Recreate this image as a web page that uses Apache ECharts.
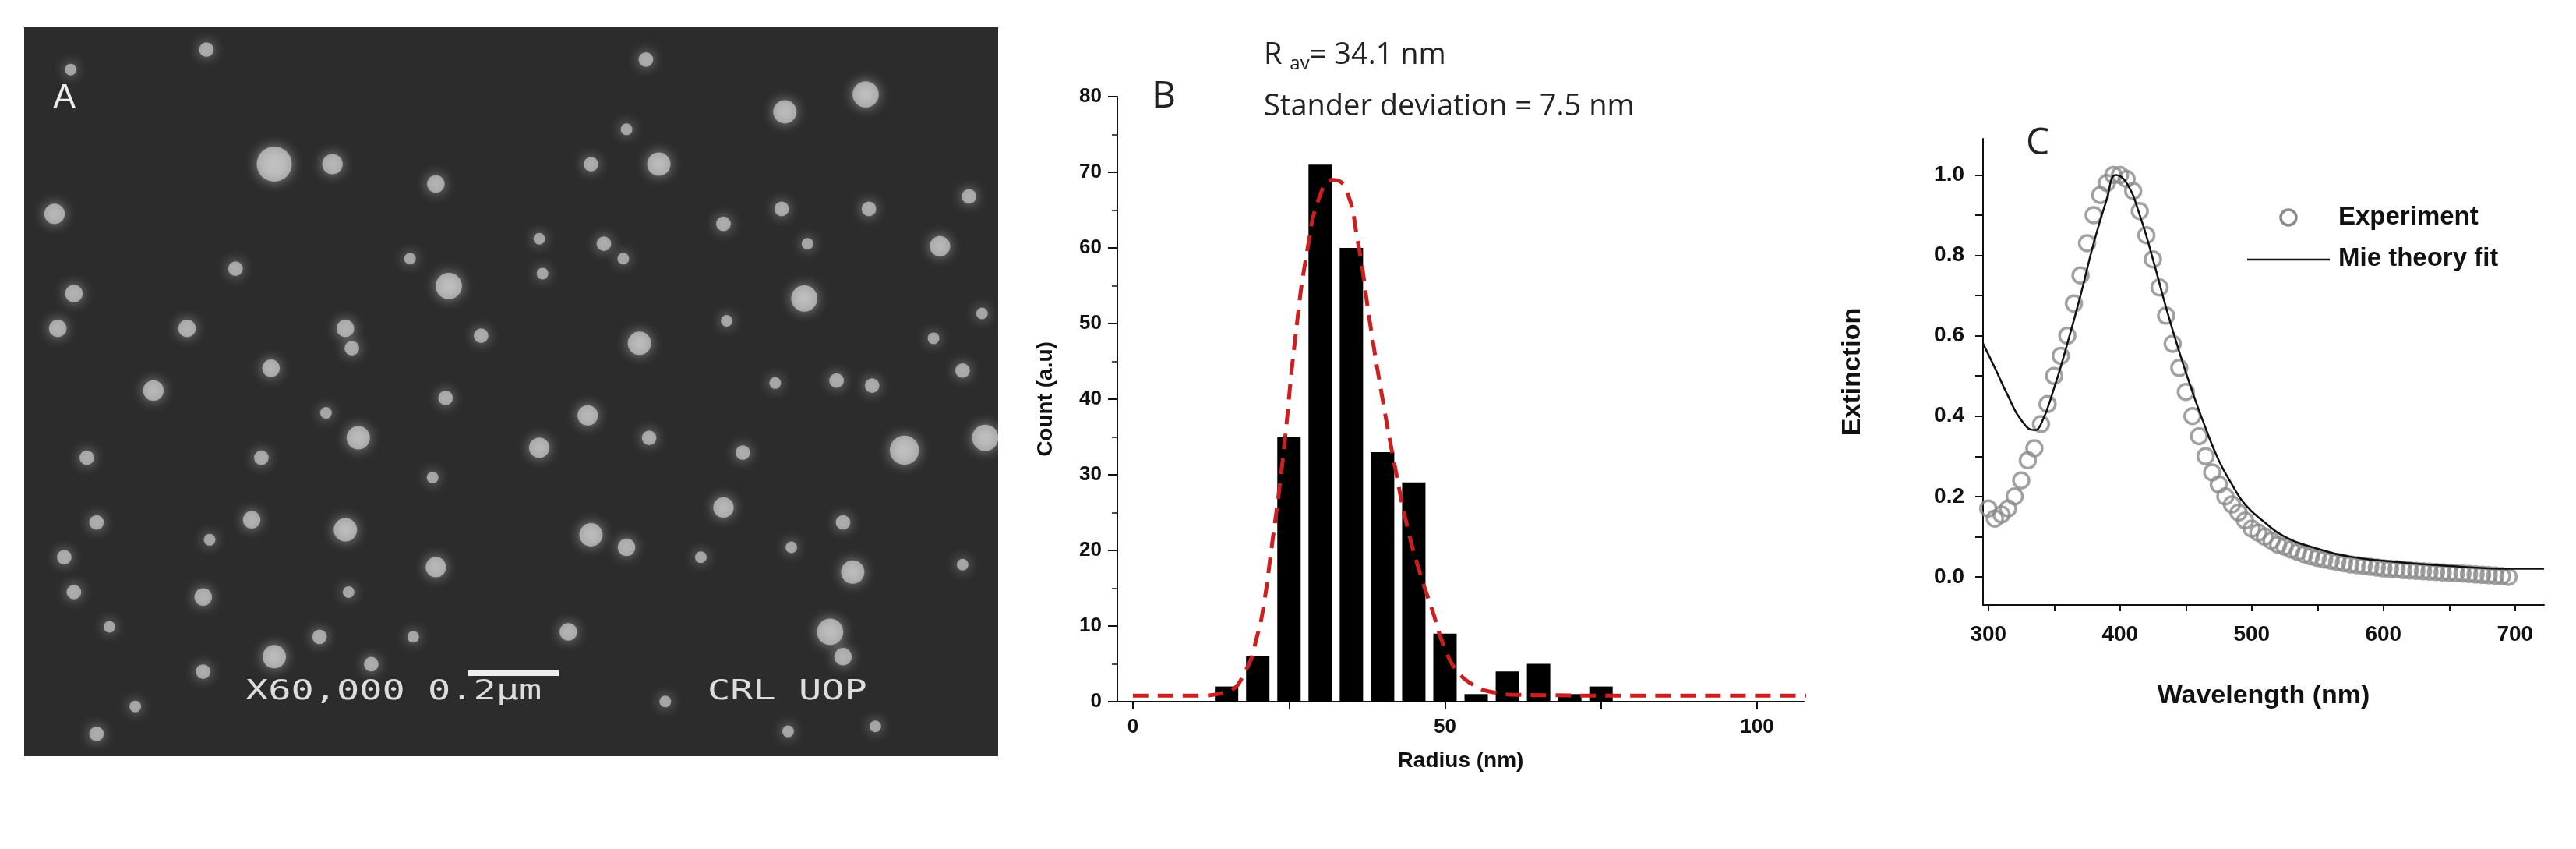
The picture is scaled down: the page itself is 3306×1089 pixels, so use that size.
<!DOCTYPE html>
<html>
<head>
<meta charset="utf-8">
<script src="https://cdn.jsdelivr.net/npm/echarts@6/dist/echarts.min.js"></script>
<style>html,body{margin:0;padding:0;background:#fff}#main{width:3306px;height:1089px}</style>
</head>
<body>
<div id="main"></div>
<script>
// panel A: bright spots in the SEM picture [x, y, size] (picture pixel coordinates)
var semSpots = [[425,330,60],[515,330,35],[320,100,25],[110,140,20],[85,430,35],[115,590,30],[90,660,30],[365,540,25],
  [290,660,30],[675,370,30],[695,575,45],[535,660,30],[545,700,25],[420,740,30],[238,785,35],[690,800,25],[745,675,25],
  [635,520,20],[835,480,20],[840,550,20],[935,490,25],[965,520,20],[1020,330,40],[915,330,25],[970,260,20],[1000,120,25],
  [1215,225,40],[1340,190,45],[1120,450,25],[1210,420,25],[1345,420,25],[1250,490,20],[1455,495,35],[1500,395,25],
  [1245,600,45],[1125,645,20],[990,690,40],[1200,770,20],[1295,765,25],[1350,775,25],[1490,745,25],[1520,630,20],
  [1445,680,20],[910,835,35],[835,900,35],[1005,880,25],[1150,910,25],[1400,905,50],[1525,880,45],[555,880,40],
  [505,830,20],[405,920,25],[135,920,25],[670,960,20],[150,1050,25],[390,1045,30],[535,1065,40],[325,1085,20],
  [100,1120,25],[915,1075,40],[970,1100,30],[1120,1020,35],[1085,1120,20],[1225,1100,20],[1305,1050,25],[1320,1150,40],
  [1490,1135,20],[675,1140,35],[540,1190,20],[315,1200,30],[115,1190,25],[170,1260,20],[880,1270,30],[1285,1270,45],
  [1305,1320,30],[425,1320,40],[495,1280,25],[575,1335,25],[315,1350,25],[210,1420,20],[150,1475,25],[1030,1410,20],
  [1220,1470,20],[1355,1460,20],[640,1280,20]];

// panel B: size histogram
var radiusBins = [15, 20, 25, 30, 35, 40, 45, 50, 55, 60, 65, 70, 75];
var radiusCounts = [2, 6, 35, 71, 60, 33, 29, 9, 1, 4, 5, 1, 2];
var fitX = [0, 10, 15, 18, 20, 21, 22, 24, 26, 28, 30, 32, 34, 36, 38, 40, 42, 44, 46, 48, 50, 52, 55, 58, 62, 80, 108];
var fitY = [0.8, 0.8, 1.3, 4, 9, 13, 19, 32, 48, 60, 67, 69, 68, 61, 50, 40, 31, 23, 17, 12, 7, 4, 2, 1.2, 0.9, 0.8, 0.8];

// panel C: extinction spectrum
var expWl = [300,305,310,315,320,325,330,335,340,345,350,355,360,365,370,375,380,385,390,395,400,405,410,415,420,425,430,435,
  440,445,450,455,460,465,470,475,480,485,490,495,500,505,510,515,520,525,530,535,540,545,550,555,560,565,570,575,580,585,
  590,595,600,605,610,615,620,625,630,635,640,645,650,655,660,665,670,675,680,685,690,695];
var expExt = [0.17,0.145,0.155,0.17,0.2,0.24,0.29,0.32,0.38,0.43,0.5,0.55,0.6,0.68,0.75,0.83,0.9,0.95,0.98,1.0,1.0,0.99,0.96,
  0.91,0.85,0.79,0.72,0.65,0.58,0.52,0.46,0.4,0.35,0.3,0.26,0.23,0.2,0.18,0.16,0.14,0.12,0.11,0.1,0.09,0.08,0.075,0.068,
  0.062,0.056,0.051,0.047,0.043,0.04,0.037,0.034,0.031,0.029,0.027,0.025,0.023,0.021,0.02,0.019,0.017,0.016,0.015,0.014,
  0.013,0.012,0.011,0.01,0.009,0.008,0.007,0.006,0.005,0.004,0.003,0.002,0.0];
var mieWl = [296,305,315,325,335,340,350,360,370,380,390,397,405,415,425,435,445,455,465,475,485,495,510,525,550,575,600,650,700,722];
var mieExt = [0.58,0.52,0.45,0.39,0.365,0.38,0.47,0.58,0.7,0.83,0.94,1.0,0.98,0.9,0.79,0.67,0.56,0.46,0.37,0.29,0.23,0.18,
  0.135,0.1,0.07,0.05,0.04,0.027,0.02,0.02];

var bold = {fontFamily: 'Liberation Sans', fontWeight: 'bold', color: '#111'};
function axisText(size) {
  return Object.assign({fontSize: size}, bold);
}
var blackLine = {onZero: false, lineStyle: {color: '#111', width: 2}};

var option = {
  animation: false,
  backgroundColor: '#fff',
  grid: [
    {left: 31, top: 35, width: 1250, height: 935, backgroundColor: '#2c2c2c', show: true, borderWidth: 0},
    {left: 1434, top: 124, right: 991, bottom: 189},
    {left: 2545, top: 178, right: 41, bottom: 313}
  ],
  xAxis: [
    {gridIndex: 0, type: 'value', min: 38, max: 1545, show: false},
    {gridIndex: 1, type: 'value', min: -2.5, max: 107.5,
      name: 'Radius (nm)', nameLocation: 'middle', nameGap: 62, nameTextStyle: axisText(28),
      axisLine: blackLine, splitLine: {show: false},
      axisTick: {customValues: [0, 25, 50, 75, 100], length: 10, lineStyle: {color: '#111', width: 2}},
      axisLabel: Object.assign({customValues: [0, 50, 100], margin: 20}, axisText(26))},
    {gridIndex: 2, type: 'value', min: 296, max: 722,
      name: 'Wavelength (nm)', nameLocation: 'middle', nameGap: 100, nameTextStyle: axisText(34),
      axisLine: blackLine, splitLine: {show: false},
      axisTick: {customValues: [300, 350, 400, 450, 500, 550, 600, 650, 700], length: 8, lineStyle: {color: '#111', width: 2}},
      axisLabel: Object.assign({customValues: [300, 400, 500, 600, 700], margin: 24}, axisText(28))}
  ],
  yAxis: [
    {gridIndex: 0, type: 'value', min: 55, max: 1520, inverse: true, show: false},
    {gridIndex: 1, type: 'value', min: 0, max: 80, interval: 10,
      name: 'Count (a.u)', nameLocation: 'middle', nameGap: 78, nameTextStyle: axisText(28),
      axisLine: {show: true, onZero: false, lineStyle: {color: '#111', width: 2}}, splitLine: {show: false},
      axisTick: {length: 12, lineStyle: {color: '#111', width: 2}},
      minorTick: {show: true, splitNumber: 2, length: 7, lineStyle: {color: '#111', width: 1.5}},
      axisLabel: Object.assign({margin: 20}, axisText(26))},
    {gridIndex: 2, type: 'value', min: -0.07, max: 1.09,
      name: 'Extinction', nameLocation: 'middle', nameGap: 150, nameTextStyle: axisText(34),
      axisLine: {show: true, onZero: false, lineStyle: {color: '#111', width: 2}}, splitLine: {show: false},
      axisTick: {customValues: [0, 0.1, 0.2, 0.3, 0.4, 0.5, 0.6, 0.7, 0.8, 0.9, 1.0], length: 10, lineStyle: {color: '#111', width: 2}},
      axisLabel: Object.assign({customValues: [0, 0.2, 0.4, 0.6, 0.8, 1.0], margin: 24,
        formatter: function (v) { return v.toFixed(1); }}, axisText(28))}
  ],
  series: [
    {type: 'scatter', xAxisIndex: 0, yAxisIndex: 0, silent: true,
      data: semSpots.map(function (s) { return [s[0], s[1], s[2]]; }),
      symbolSize: function (d) { return d[2] * 0.75; },
      itemStyle: {color: 'rgba(225,225,225,0.75)', shadowBlur: 16, shadowColor: 'rgba(255,255,255,0.8)'}},
    {type: 'bar', xAxisIndex: 1, yAxisIndex: 1, barWidth: 30,
      data: radiusBins.map(function (x, i) { return [x, radiusCounts[i]]; }),
      itemStyle: {color: '#000'}},
    {type: 'line', xAxisIndex: 1, yAxisIndex: 1, smooth: true, symbol: 'none',
      data: fitX.map(function (x, i) { return [x, fitY[i]]; }),
      lineStyle: {color: '#cc2020', width: 5, type: [20, 12]}},
    {name: 'Experiment', type: 'scatter', xAxisIndex: 2, yAxisIndex: 2, symbol: 'circle', symbolSize: 20,
      data: expWl.map(function (x, i) { return [x, expExt[i]]; }),
      itemStyle: {color: 'rgba(255,255,255,0)', borderColor: '#8a8a8a', borderWidth: 3.5}},
    {name: 'Mie theory fit', type: 'line', xAxisIndex: 2, yAxisIndex: 2, smooth: true, symbol: 'none', z: 3,
      data: mieWl.map(function (x, i) { return [x, mieExt[i]]; }),
      lineStyle: {color: '#111', width: 2.5}}
  ],
  graphic: [
    {type: 'text', left: 68, top: 105, z: 10, style: {text: 'A', fontSize: 44, fontFamily: 'Liberation Sans', fill: '#eee'}},
    {type: 'text', left: 315, top: 870, z: 10, scaleX: 1.35, style: {text: 'X60,000 0.2\u00b5m', fontSize: 36, fontFamily: 'DejaVu Sans Mono', fill: '#ddd'}},
    {type: 'text', left: 908, top: 870, z: 10, scaleX: 1.35, style: {text: 'CRL UOP', fontSize: 36, fontFamily: 'DejaVu Sans Mono', fill: '#ddd'}},
    {type: 'rect', left: 601, top: 860, z: 10, shape: {width: 116, height: 7}, style: {fill: '#eee'}},
    {type: 'text', left: 1478, top: 100, style: {text: 'B', fontSize: 48, fontFamily: 'Open Sans', fill: '#222'}},
    {type: 'text', left: 1622, top: 52, style: {rich: {
      a: {fontSize: 38, fontFamily: 'Open Sans', fill: '#222'},
      s: {fontSize: 24, fontFamily: 'Open Sans', fill: '#222', padding: [22, 0, 0, 0]}},
      text: '{a|R }{s|av}{a|= 34.1 nm}'}},
    {type: 'text', left: 1622, top: 118, style: {text: 'Stander deviation = 7.5 nm', fontSize: 38, fontFamily: 'Open Sans', fill: '#222'}},
    {type: 'text', left: 2600, top: 160, style: {text: 'C', fontSize: 48, fontFamily: 'Open Sans', fill: '#222'}},
    // legend of panel C
    {type: 'circle', shape: {cx: 2937, cy: 279, r: 10}, style: {fill: 'none', stroke: '#8a8a8a', lineWidth: 3.5}},
    {type: 'line', shape: {x1: 2884, y1: 333, x2: 2990, y2: 333}, style: {stroke: '#111', lineWidth: 2.5}},
    {type: 'text', left: 3001, top: 262, style: {text: 'Experiment', fontSize: 33, fontFamily: 'Liberation Sans', fontWeight: 'bold', fill: '#111'}},
    {type: 'text', left: 3001, top: 315, style: {text: 'Mie theory fit', fontSize: 33, fontFamily: 'Liberation Sans', fontWeight: 'bold', fill: '#111'}}
  ]
};

var chart = echarts.init(document.getElementById('main'));
chart.setOption(option);
</script>
</body>
</html>
